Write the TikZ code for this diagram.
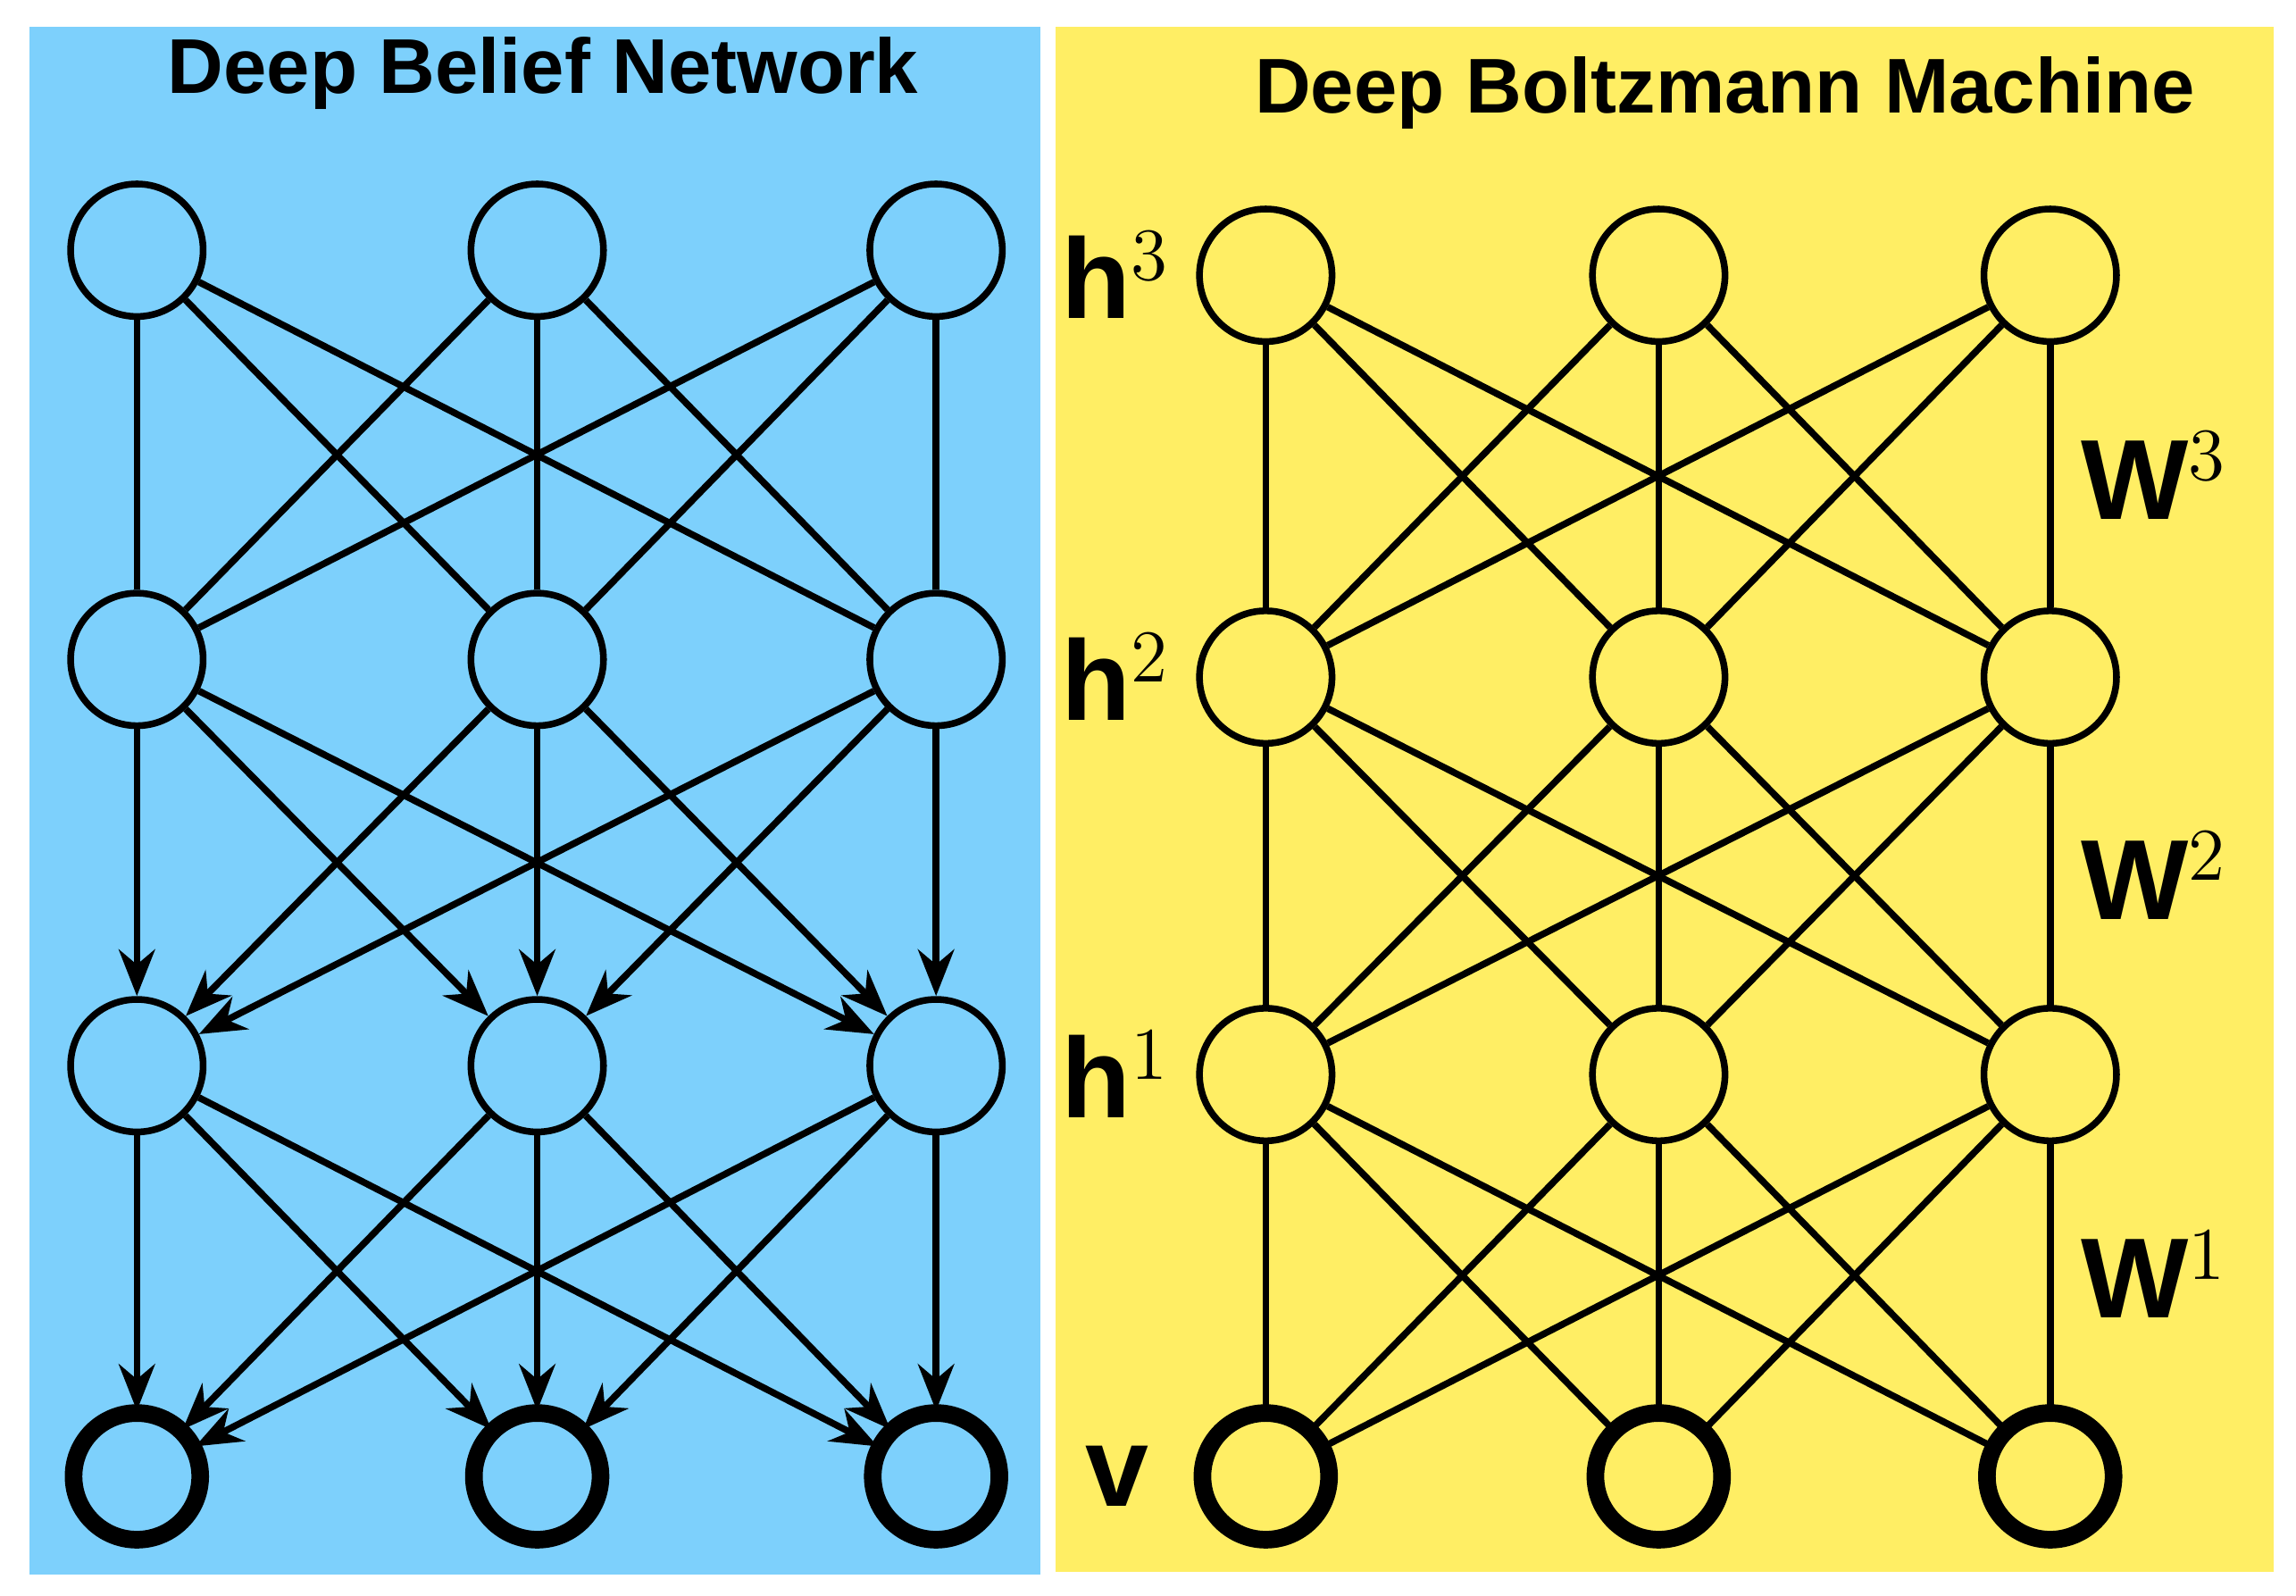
\documentclass[tikz,border=0pt]{standalone}
\usepackage{fontspec}
\setmainfont{Liberation Sans}
\usetikzlibrary{arrows.meta}
\definecolor{dbnblue}{RGB}{125,208,252}
\definecolor{dbmyellow}{RGB}{255,238,100}
\begin{document}
\begin{tikzpicture}[x=0.01cm,y=-0.01cm,line width=1.3pt]
	\tikzset{
		unit/.style={circle,draw=black,minimum size=0.9cm,inner sep=0pt},
		vis/.style={unit,double=black,double distance=1.6pt,line width=0.9pt,minimum size=0.86cm},
		ttl/.style={font=\fontsize{15}{17}\selectfont\bfseries},
		lbl/.style={font=\fontsize{22}{24}\selectfont\rmfamily},
		arr/.style={-{Stealth[length=9pt,width=7pt]}}
	}
	\useasboundingbox (0,0) rectangle (1560,1084);
	%% Panels
	\fill[dbnblue] (20,18) rectangle (707,1070);
	\fill[dbmyellow] (717,18) rectangle (1545,1068);
	\node[ttl] (tb) at (369,50) {Deep Belief Network};
	\node[ttl] (ty) at (1172,63) {Deep Boltzmann Machine};
	%% Deep Belief Network
	\foreach \i/\x in {1/93,2/365,3/636}{
		\foreach \j/\y in {1/170,2/448,3/724}
			\node[unit,fill=dbnblue] (b\j\i) at (\x,\y) {};
		\node[vis,fill=dbnblue] (b4\i) at (\x,1003) {};
	}
	\foreach \i in {1,2,3}
		\foreach \k in {1,2,3}{
			\draw (b1\i) -- (b2\k);
			\draw[arr] (b2\i) -- (b3\k);
			\draw[arr] (b3\i) -- (b4\k);
		}
	%% Deep Boltzmann Machine
	\foreach \i/\x in {1/860,2/1127,3/1393}{
		\foreach \j/\y in {1/187,2/460,3/730}
			\node[unit,fill=dbmyellow] (d\j\i) at (\x,\y) {};
		\node[vis,fill=dbmyellow] (d4\i) at (\x,1003) {};
	}
	\foreach \i in {1,2,3}
		\foreach \k in {1,2,3}{
			\draw (d1\i) -- (d2\k);
			\draw (d2\i) -- (d3\k);
			\draw (d3\i) -- (d4\k);
		}
	%% Labels
	\node[lbl,left=1pt] (lh3) at (d11.west) {$\mathbf{h}^3$};
	\node[lbl,left=1pt] (lh2) at (d21.west) {$\mathbf{h}^2$};
	\node[lbl,left=1pt] (lh1) at (d31.west) {$\mathbf{h}^1$};
	\node[lbl,left=6pt] (lv) at (d41.west) {$\mathbf{v}$};
	\node[lbl,right=2pt] (lw3) at (1393,323) {$\mathbf{W}^3$};
	\node[lbl,right=2pt] (lw2) at (1393,595) {$\mathbf{W}^2$};
	\node[lbl,right=2pt] (lw1) at (1393,866) {$\mathbf{W}^1$};
\end{tikzpicture}
\end{document}
